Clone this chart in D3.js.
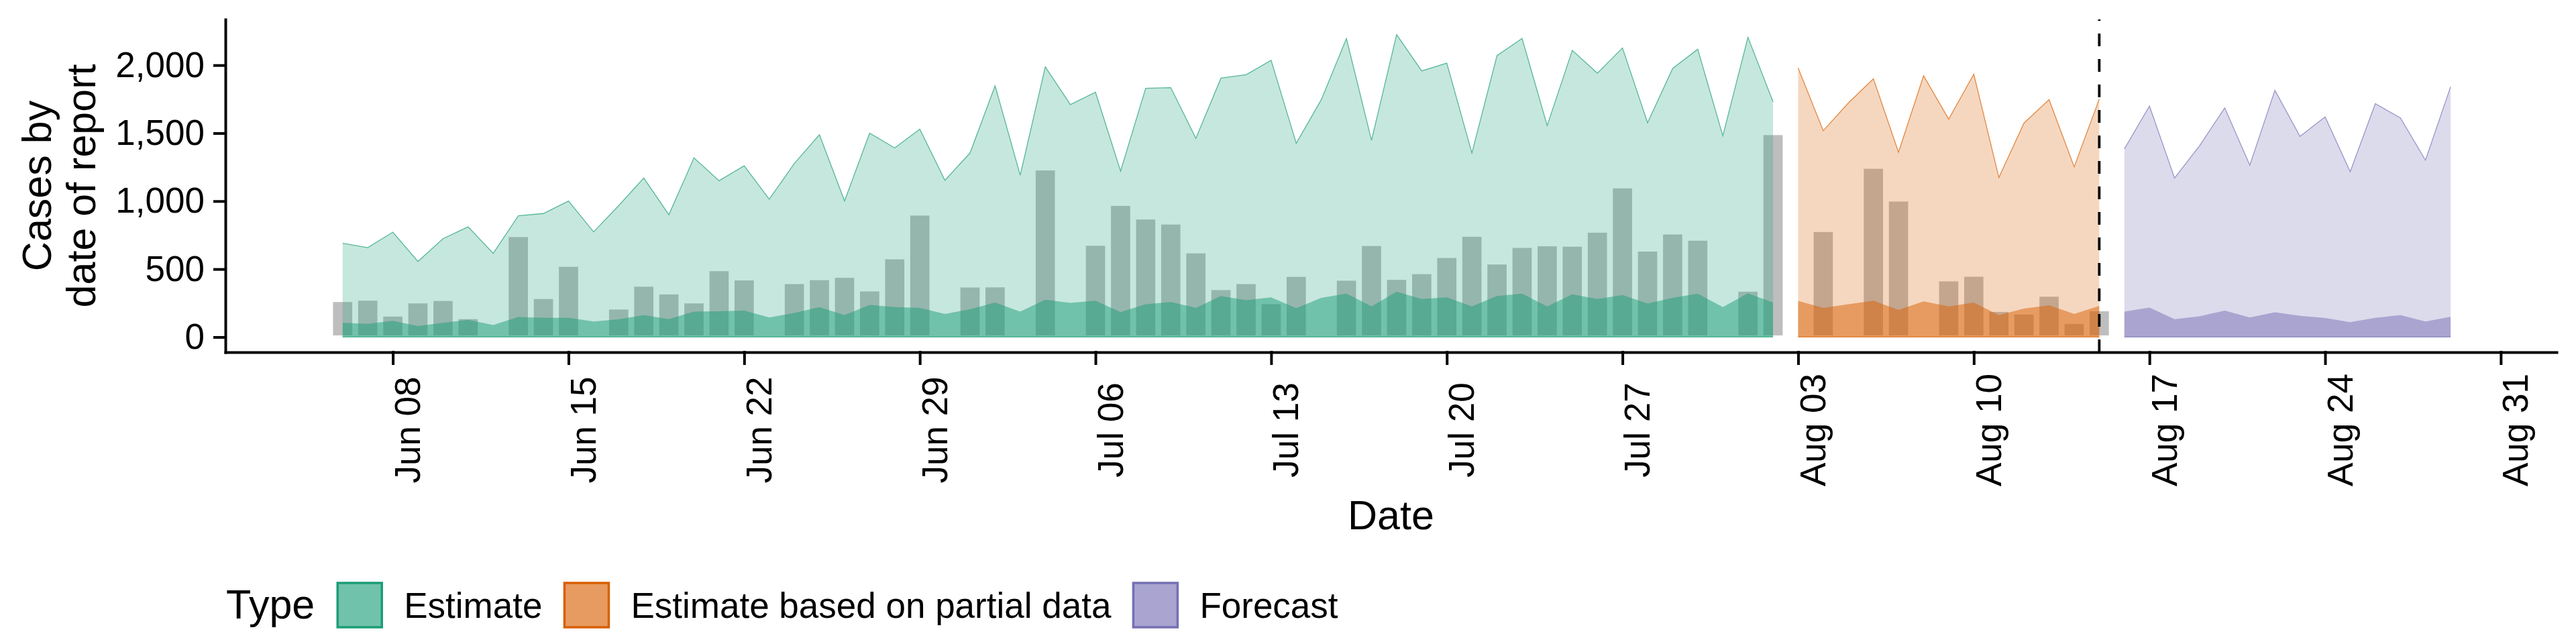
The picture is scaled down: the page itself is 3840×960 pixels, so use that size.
<!DOCTYPE html>
<html>
<head>
<meta charset="utf-8">
<script src="https://cdn.jsdelivr.net/npm/d3@7"></script>
<style>
  body { margin: 0; background: #fff; }
  text { font-family: "Liberation Sans", Arial, Helvetica, sans-serif; fill: #000; }
</style>
</head>
<body>
<svg id="chart" width="3840" height="960"></svg>
<script>
// daily values
var estimateStart = "2020-06-06";
var estimateUpper = [690, 658, 772, 556, 724, 811, 616, 892, 909, 1001, 774, 967, 1170, 900, 1318, 1150, 1260, 1014, 1277, 1489, 1001, 1500, 1391, 1530, 1153,
  1354, 1849, 1191, 1988, 1710, 1801, 1221, 1830, 1835, 1462, 1905, 1930, 2036, 1425, 1747, 2197, 1447, 2225, 1958, 2015, 1354, 2070, 2197, 1556, 2109, 1941, 2127, 1576, 1976, 2117, 1481,
  2205, 1730];
var estimateInner = [105, 97, 119, 81, 105, 127, 88, 148, 142, 142, 114, 131, 161, 132, 187, 190, 195, 144, 178, 221, 161, 237, 221, 215, 170,
  204, 254, 187, 275, 251, 268, 183, 241, 258, 215, 302, 271, 292, 212, 288, 319, 226, 334, 280, 292, 226, 302, 319, 226, 314, 280, 309, 246, 288, 319, 221,
  322, 254];

var partialStart = "2020-08-03";
var partialUpper = [1980, 1518, 1722, 1900, 1360, 1922, 1603, 1934, 1174, 1574, 1747, 1252, 1751];
var partialInner = [266, 215, 241, 268, 200, 263, 226, 254, 161, 209, 234, 170, 229];

var forecastStart = "2020-08-16";
var forecastUpper = [1383, 1700, 1170, 1408, 1686, 1264, 1815, 1476, 1620, 1216, 1717, 1612, 1301, 1841];
var forecastInner = [187, 217, 132, 153, 195, 144, 182, 156, 141, 109, 142, 161, 114, 149];

// reported cases, null = no bar that day
var reportStart = "2020-06-06";
var reported = [270, 280, 163, 260, 278, 144, null, 748, 292, 529, null, 215, 383, 326, 260, 497, 429, null, 402, 431, 448, 348, 584, 906, null,
  377, 378, null, 1238, null, 684, 977, 877, 840, 628, 358, 402, 254, 455, null, 427, 682, 433, 475, 594, 750, 546, 668, 680, 677, 780, 1106, 641, 767, 721, null,
  346, 1498, null, 785, null, 1250, 1009, null, 422, 456, 197, 178, 309, 109, 202];

var forecastLine = "2020-08-15";
var yTicks = [0, 500, 1000, 1500, 2000];
var typeNames = ["Estimate", "Estimate based on partial data", "Forecast"];
var typeColours = ["#1b9e77", "#d95f02", "#7570b3"];

(function() {
  "use strict";
  var DAY = 864e5;
  var parse = d3.utcParse("%Y-%m-%d");
  var left = 336, right = 3811, top = 29, bottom = 525;

  function daily(start, upper, inner) {
    var t0 = parse(start);
    return upper.map(function(u, i) {
      return {date: new Date(+t0 + i * DAY), upper: u, inner: inner ? inner[i] : null};
    });
  }

  var ribbons = [
    daily(estimateStart, estimateUpper, estimateInner),
    daily(partialStart, partialUpper, partialInner),
    daily(forecastStart, forecastUpper, forecastInner)
  ];
  var bars = daily(reportStart, reported).filter(function(d) { return d.upper !== null; });

  // ggplot style 5% expansion
  var lo = +bars[0].date - 0.45 * DAY;
  var hi = +d3.max(ribbons, function(r) { return d3.max(r, function(d) { return d.date; }); });
  var span = hi - lo;
  var x = d3.scaleUtc()
    .domain([new Date(lo - 0.05 * span), new Date(hi + 0.05 * span)])
    .range([left, right]);

  var yMax = d3.max(ribbons, function(r) { return d3.max(r, function(d) { return d.upper; }); });
  var y = d3.scaleLinear()
    .domain([-0.05 * yMax, yMax * 1.05])
    .range([bottom, top]);

  var svg = d3.select("#chart");
  svg.append("rect").attr("width", 3840).attr("height", 960).attr("fill", "#fff");

  // reported bars first, ribbons go over them
  var bw = x(new Date(DAY)) - x(new Date(0));
  svg.append("g").selectAll("rect").data(bars).enter().append("rect")
    .attr("x", function(d) { return x(d.date) - 0.45 * bw; })
    .attr("width", 0.9 * bw)
    .attr("y", function(d) { return y(d.upper); })
    .attr("height", function(d) { return y(0) - y(d.upper); })
    .attr("fill", "#bebebe")
    .attr("stroke", "#fff")
    .attr("stroke-width", 5);

  var outer = d3.area().x(function(d) { return x(d.date); }).y0(y(0)).y1(function(d) { return y(d.upper); });
  var inner = d3.area().x(function(d) { return x(d.date); }).y0(y(0)).y1(function(d) { return y(d.inner); });
  var upLine = d3.line().x(function(d) { return x(d.date); }).y(function(d) { return y(d.upper); });
  var baseLine = d3.line().x(function(d) { return x(d.date); }).y(y(0));

  var g = svg.append("g");
  ribbons.forEach(function(r, i) {
    g.append("path").attr("d", outer(r)).attr("fill", typeColours[i]).attr("fill-opacity", 0.25);
    g.append("path").attr("d", upLine(r)).attr("fill", "none").attr("stroke", typeColours[i])
      .attr("stroke-width", 1.3).attr("stroke-opacity", 0.7);
    g.append("path").attr("d", baseLine(r)).attr("fill", "none").attr("stroke", typeColours[i])
      .attr("stroke-width", 1.3).attr("stroke-opacity", 0.7);
  });
  ribbons.forEach(function(r, i) {
    g.append("path").attr("d", inner(r)).attr("fill", typeColours[i]).attr("fill-opacity", 0.5);
  });

  // forecast cut-off
  var fx = x(parse(forecastLine));
  svg.append("line")
    .attr("x1", fx).attr("x2", fx).attr("y1", bottom).attr("y2", top)
    .attr("stroke", "#000").attr("stroke-width", 3.8).attr("stroke-dasharray", "19,19");

  // axes
  var yAxis = svg.append("g")
    .attr("transform", "translate(" + left + ",0)")
    .call(d3.axisLeft(y).tickValues(yTicks).tickFormat(d3.format(",")).tickSize(16).tickSizeOuter(0).tickPadding(15));
  var xAxis = svg.append("g")
    .attr("transform", "translate(0," + bottom + ")")
    .call(d3.axisBottom(x).ticks(d3.utcMonday.every(1)).tickFormat(d3.utcFormat("%b %d")).tickSize(17).tickSizeOuter(0));

  [yAxis, xAxis].forEach(function(a) {
    a.attr("color", "#000").attr("font-family", null).attr("font-size", null);
    a.selectAll("path, line").attr("stroke-width", 4).attr("stroke-linecap", "square");
    a.selectAll("text").style("font-size", "53px");
  });
  xAxis.selectAll("text")
    .attr("x", null).attr("y", null).attr("dy", null)
    .attr("text-anchor", "middle")
    .attr("transform", "translate(40,116) rotate(-90)");

  svg.append("text")
    .attr("x", (left + right) / 2).attr("y", 789)
    .attr("text-anchor", "middle").style("font-size", "61px")
    .text("Date");

  var yt = svg.append("text")
    .attr("transform", "translate(0," + ((top + bottom) / 2) + ") rotate(-90)")
    .attr("text-anchor", "middle").style("font-size", "61px");
  yt.append("tspan").attr("x", 0).attr("y", 76).text("Cases by");
  yt.append("tspan").attr("x", 0).attr("y", 142).text("date of report");

  // legend
  var lg = svg.append("g");
  var title = lg.append("text").attr("x", 337).attr("y", 922).style("font-size", "61px").text("Type");
  var cx = 337 + title.node().getComputedTextLength() + 34;
  typeNames.forEach(function(name, i) {
    lg.append("rect").attr("x", cx).attr("y", 869).attr("width", 66).attr("height", 66)
      .attr("fill", typeColours[i]).attr("fill-opacity", 0.25);
    lg.append("rect").attr("x", cx).attr("y", 869).attr("width", 66).attr("height", 66)
      .attr("fill", typeColours[i]).attr("fill-opacity", 0.5)
      .attr("stroke", typeColours[i]).attr("stroke-width", 3.5);
    var t = lg.append("text").attr("x", cx + 99).attr("y", 921).style("font-size", "53px").text(name);
    cx = cx + 99 + t.node().getComputedTextLength() + 33;
  });
})();
</script>
</body>
</html>
